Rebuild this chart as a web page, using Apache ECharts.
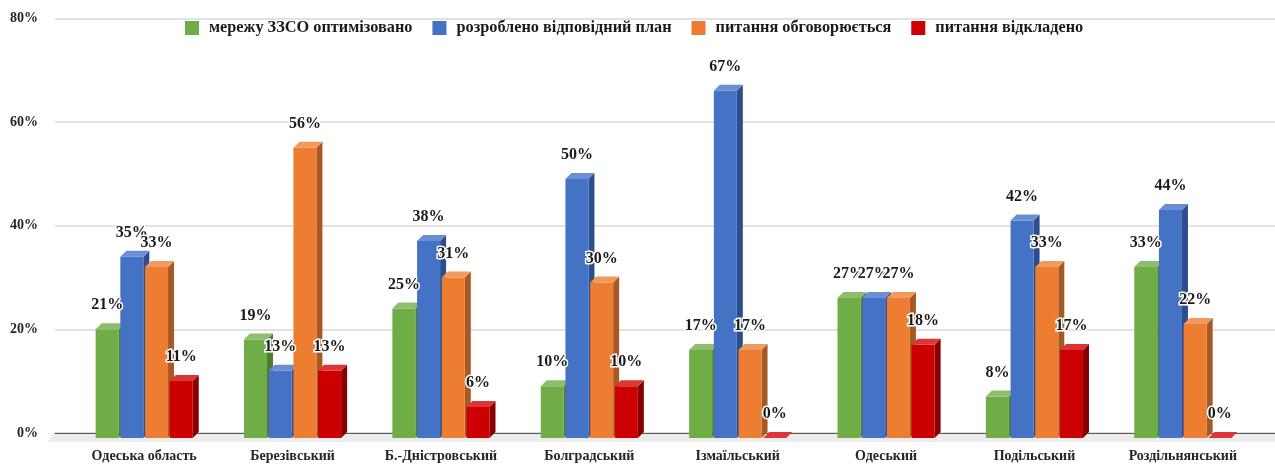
<!DOCTYPE html>
<html>
<head>
<meta charset="utf-8">
<script src="https://cdn.jsdelivr.net/npm/echarts@6/dist/echarts.min.js"></script>
<style>html,body{margin:0;padding:0;background:#fff}#c{width:1275px;height:464px}</style>
</head>
<body>
<div id="c"></div>
<script>
const categories = ['Одеська область','Березівський','Б.-Дністровський','Болградський','Ізмаїльський','Одеський','Подільський','Роздільнянський'];
const optimized = [21,19,25,10,17,27,8,33];
const planned = [35,13,38,50,67,27,42,44];
const discussed = [33,56,31,30,17,27,33,22];
const postponed = [11,13,6,10,0,18,17,0];
const seriesNames = ['мережу ЗЗСО оптимізовано','розроблено відповідний план','питання обговорюється','питання відкладено'];
const yTicks = [0,20,40,60,80];

const FONT = '"Liberation Serif", serif';
const palette = [
  {front:'#70AD47', side:'#4E7A31', top:'#8DBE6E'},
  {front:'#4472C4', side:'#2C4E8C', top:'#6A8FD2'},
  {front:'#ED7D31', side:'#A85823', top:'#F29A5E'},
  {front:'#CC0000', side:'#860000', top:'#DC3535'}
];
const DEPTH = 6, BAR_W = 23, PITCH = 24.7, LABEL_UP = 24;

function render3d(si){
  return function(params, api){
    const cat = api.value(0), val = api.value(1);
    const top = api.coord([cat, val]);
    const base = api.coord([cat, 0]);
    const c = palette[si];
    const x0 = top[0] + (si - 1.5) * PITCH - BAR_W / 2, x1 = x0 + BAR_W;
    const yT = top[1], yB = base[1];
    const poly = (pts, fill) => ({type:'polygon', shape:{points:pts}, style:{fill:fill, stroke:null}});
    const children = [];
    if (val > 0) {
      children.push(poly([[x1,yT],[x1+DEPTH,yT-DEPTH],[x1+DEPTH,yB-DEPTH],[x1,yB]], c.side));
      children.push({type:'rect', shape:{x:x0,y:yT,width:BAR_W,height:yB-yT}, style:{fill:c.front}});
    }
    children.push(poly([[x0,yT],[x1,yT],[x1+DEPTH,yT-DEPTH],[x0+DEPTH,yT-DEPTH]], c.top));
    children.push({type:'text', z2:100, silent:true, style:{
      text: val + '%', x:(x0+x1)/2, y:yT-LABEL_UP, align:'center', verticalAlign:'middle',
      font:'bold 16px '+FONT, fill:'#1a1a1a', stroke:'#fff', lineWidth:3
    }});
    return {type:'group', children:children};
  };
}

const seriesValues = [optimized, planned, discussed, postponed];
const chart = echarts.init(document.getElementById('c'), null, {renderer:'canvas'});
chart.setOption({
  animation:false,
  backgroundColor:'#fff',
  graphic:[{type:'polygon', z:0, silent:true,
    shape:{points:[[55,432.5],[1275,432.5],[1275,442],[47,442]]},
    style:{fill:'#ECECEC'}}],
  legend:{
    left:185, top:20, padding:0, itemWidth:14, itemHeight:14, itemGap:20, icon:'rect', selectedMode:false,
    data:seriesNames,
    textStyle:{fontFamily:FONT, fontWeight:'bold', fontSize:16.3, color:'#1a1a1a', padding:[0,0,0,5]}
  },
  grid:[
    {left:55, right:0, top:18.5, height:414.5},
    {left:70, width:1187, top:23.5, height:414.5}
  ],
  xAxis:[
    {type:'category', gridIndex:0, data:categories, z:1,
     axisLine:{show:true, lineStyle:{color:'#595959', width:1.2}}, axisTick:{show:false}, axisLabel:{show:false}, splitLine:{show:false}},
    {type:'category', gridIndex:1, data:categories,
     axisLine:{show:false}, axisTick:{show:false},
     axisLabel:{interval:0, margin:11, fontFamily:FONT, fontWeight:'bold', fontSize:14, color:'#262626'}}
  ],
  yAxis:[
    {type:'value', gridIndex:0, min:yTicks[0], max:yTicks[yTicks.length-1], interval:20,
     axisLine:{show:false}, axisTick:{show:false},
     splitLine:{lineStyle:{color:'#D9D9D9', width:1.5}},
     axisLabel:{margin:17, formatter:'{value}%', fontFamily:FONT, fontWeight:'bold', fontSize:14, color:'#262626'}},
    {type:'value', gridIndex:1, min:yTicks[0], max:yTicks[yTicks.length-1], interval:20, show:false}
  ],
  series: seriesValues.map((vals, si) => ({
    name:seriesNames[si], type:'custom', xAxisIndex:1, yAxisIndex:1, clip:false, z:5,
    itemStyle:{color:palette[si].front},
    encode:{x:0, y:1},
    data:vals.map((v,i)=>[i,v]),
    renderItem:render3d(si)
  }))
});
</script>
</body>
</html>
